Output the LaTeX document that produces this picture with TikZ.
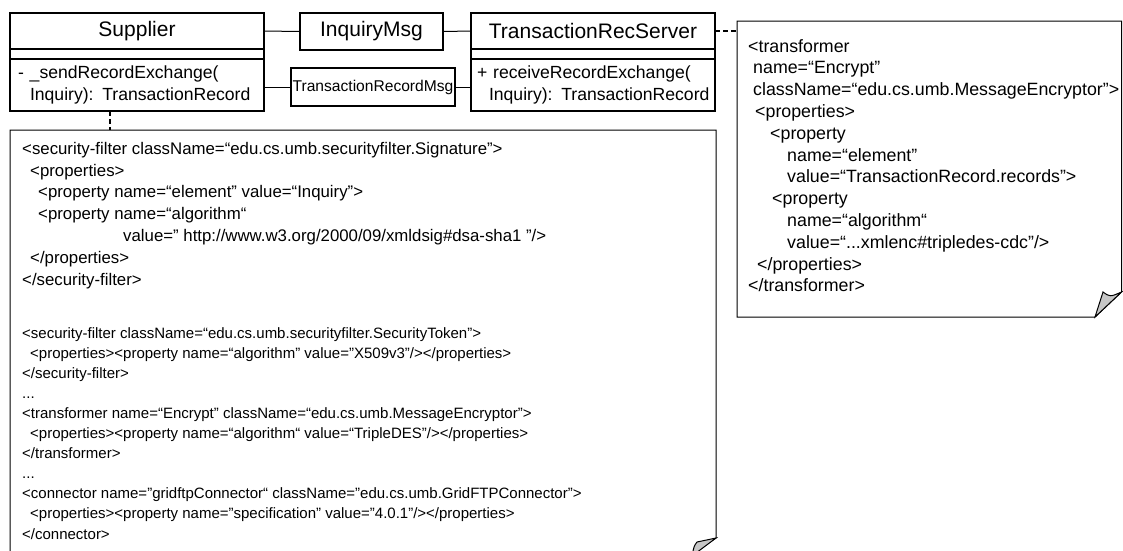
\documentclass[tikz,border=0pt]{standalone}
\usepackage{fontspec}
\setmainfont{Liberation Sans}
\usetikzlibrary{positioning}

\tikzset{
  classhead/.style={draw, line width=2pt, outer sep=0pt, inner sep=0pt, font=\fontsize{21}{25}\selectfont},
  classbox/.style={draw, line width=2pt, outer sep=0pt, inner sep=0pt},
  classops/.style={classbox, align=left, inner xsep=8pt, font=\fontsize{17.6}{22}\selectfont},
  assoc/.style={line width=1pt},
  dep/.style={line width=2.2pt, dash pattern=on 5pt off 3pt},
  notebox/.style={line width=1pt, fill=white},
  notefold/.style={line width=1pt, fill=black!22},
  notetext/.style={anchor=north west, inner sep=0pt, align=left, font=\fontsize{16.8}{21.8}\selectfont},
}

\begin{document}
\begin{tikzpicture}[x=1pt, y=-1pt]
        \useasboundingbox (0,0) rectangle (1123,550);
        \clip (0,0) rectangle (1123,550);
        % classes
        \node[classhead, minimum width=254pt, minimum height=36pt] (supplier) at (137,31) {Supplier};
        \node[classbox, minimum width=254pt, minimum height=10pt, below=0pt of supplier] (supplierattr) {};
        \node[classops, text width=238pt, minimum height=52pt, below=0pt of supplierattr] (supplierops)
             {\mbox{- \_sendRecordExchange(}\\\mbox{\hspace*{12pt}Inquiry): TransactionRecord}};
        \node[classhead, minimum width=143pt, minimum height=37pt] (inquiry) at (371.5,31.5) {InquiryMsg};
        \node[classhead, minimum width=244pt, minimum height=36pt] (server) at (593,31) {TransactionRecServer};
        \node[classbox, minimum width=244pt, minimum height=10pt, below=0pt of server] (serverattr) {};
        \node[classops, inner xsep=6pt, text width=232pt, minimum height=52pt, below=0pt of serverattr] (serverops)
             {\mbox{+ receiveRecordExchange(}\\\mbox{\hspace*{12pt}Inquiry): TransactionRecord}};
        \node[classbox, minimum width=164pt, minimum height=38pt, inner sep=1pt, font=\fontsize{15.6}{18}\selectfont] (recmsg) at (373,87) {TransactionRecordMsg};
        \draw[assoc] (supplier.east) -- (inquiry.west);
        \draw[assoc] (inquiry.east) -- (server.west);
        \draw[assoc] (supplierops.east |- recmsg.west) -- (recmsg.west);
        \draw[assoc] (recmsg.east) -- (recmsg.east -| serverops.west);
        % notes
        \coordinate (lnote) at (10,130);
        \coordinate (rnote) at (737,21);
        \draw[notebox] (10,570) -- (lnote) -- (716,130) -- (716,538) -- (686,558);
        \filldraw[notefold] (716,538) -- (697,542) .. controls (694,546) .. (692,556) -- cycle;
        \draw[notebox] (rnote) -- (1121.5,21) -- (1121.5,292) -- (1095,317) -- (737,317) -- cycle;
        \filldraw[notefold] (1095,317) -- (1103,292) .. controls (1110,297) .. (1121.5,292) -- cycle;
        \draw[dep] ([xshift=-27pt]supplierops.south) -- ([xshift=-27pt]supplierops.south |- lnote);
        \draw[dep] (server.east) -- (server.east -| rnote);
        % note texts
        \node[notetext] (sigtext) at (22,142) {<security-filter className=“edu.cs.umb.securityfilter.Signature”>\\
             \hspace*{8pt}<properties>\\
             \hspace*{16pt}<property name=“element” value=“Inquiry”>\\
             \hspace*{16pt}<property name=“algorithm“\\
             \hspace*{101pt}value=" http://www.w3.org/2000/09/xmldsig\#dsa-sha1 "/>\\
             \hspace*{8pt}</properties>\\
             </security-filter>};
        \node[notetext, font=\fontsize{15}{20.1}\selectfont] (xmltext) at (22,327) {<security-filter className=“edu.cs.umb.securityfilter.SecurityToken”>\\
             \hspace*{8pt}<properties><property name=“algorithm" value="X509v3"/></properties>\\
             </security-filter>\\
             ...\\
             <transformer name=“Encrypt" className=“edu.cs.umb.MessageEncryptor">\\
             \hspace*{8pt}<properties><property name=“algorithm“ value=“TripleDES"/></properties>\\
             </transformer>\\
             ...\\
             <connector name="gridftpConnector“ className="edu.cs.umb.GridFTPConnector">\\
             \hspace*{8pt}<properties><property name="specification" value="4.0.1"/></properties>\\
             </connector>};
        \node[notetext, font=\fontsize{17.8}{21.8}\selectfont] (enctext) at (748,39) {<transformer\\
             \hspace*{5pt}name=“Encrypt"\\
             \hspace*{5pt}className=“edu.cs.umb.MessageEncryptor">\\
             \hspace*{7pt}<properties>\\
             \hspace*{22pt}<property\\
             \hspace*{39pt}name=“element”\\
             \hspace*{39pt}value=“TransactionRecord.records”>\\
             \hspace*{24pt}<property\\
             \hspace*{39pt}name=“algorithm“\\
             \hspace*{39pt}value=“...xmlenc\#tripledes-cdc”/>\\
             \hspace*{9pt}</properties>\\
             </transformer>};
      \end{tikzpicture}
\end{document}
